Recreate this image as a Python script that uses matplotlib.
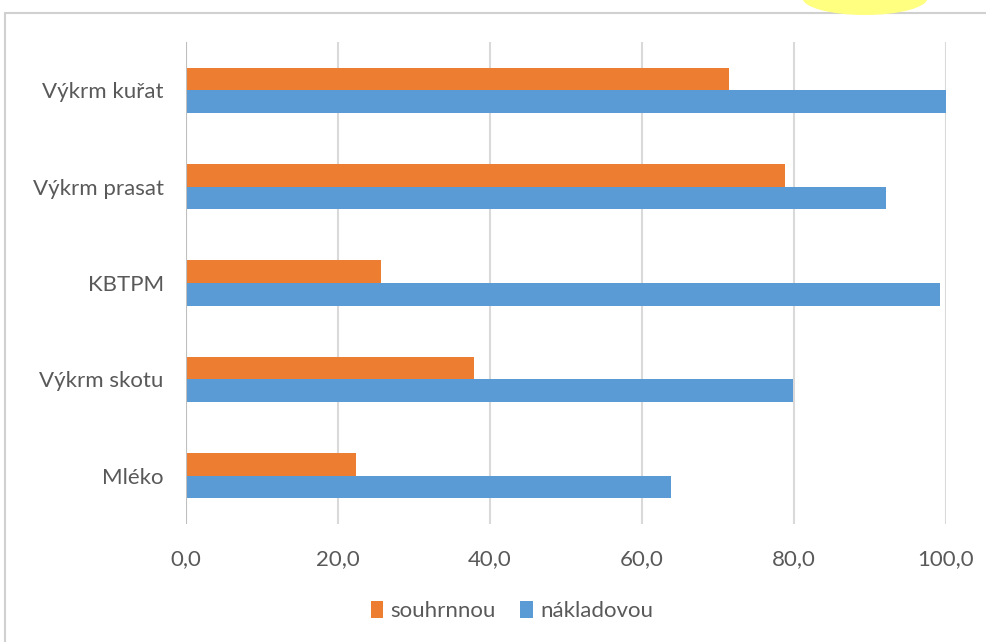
import matplotlib.pyplot as plt
from matplotlib.patches import Rectangle, Ellipse
import numpy as np

# categories from bottom to top
categories = ["Mléko", "Výkrm skotu", "KBTPM", "Výkrm prasat", "Výkrm kuřat"]
souhrnnou = [22.4, 37.9, 25.7, 78.8, 71.4]
nakladovou = [63.8, 79.9, 99.2, 92.1, 100.0]
xticks = [0, 20, 40, 60, 80, 100]
xtick_labels = ["0,0", "20,0", "40,0", "60,0", "80,0", "100,0"]

orange = "#ED7D31"
blue = "#5B9BD5"
grey_text = "#595959"
grid_col = "#D9D9D9"

plt.rcParams['font.family'] = ['Lato', 'DejaVu Sans']
fs = 16

W, H = 987, 642
fig = plt.figure(figsize=(W / 100, H / 100), dpi=100)

# chart frame (screenshot crop) and highlighter mark at top
fig.patches.append(Rectangle((5 / W, -0.01), 1.0, 1 - 13 / H + 0.01,
                             transform=fig.transFigure, fill=False,
                             edgecolor="#D0D0D0", linewidth=1.5))
fig.patches.append(Ellipse((865 / W, 1 + 2 / H), 125 / W, 34 / H,
                           transform=fig.transFigure, facecolor="#FFFF80",
                           edgecolor="none"))

ax = fig.add_axes([186 / W, 1 - 524 / H, (946 - 186) / W, (524 - 42) / H])

y = np.arange(len(categories))
h = 0.235
ax.barh(y + h / 2, souhrnnou, height=h, color=orange, label="souhrnnou", zorder=3)
ax.barh(y - h / 2, nakladovou, height=h, color=blue, label="nákladovou", zorder=3)

ax.set_xlim(0, 100)
ax.set_ylim(-0.5, len(categories) - 0.5)
ax.set_xticks(xticks)
ax.set_xticklabels(xtick_labels)
ax.set_yticks(y)
ax.set_yticklabels(categories)
ax.tick_params(axis="x", length=0, pad=18, labelsize=fs, labelcolor=grey_text)
ax.tick_params(axis="y", length=0, pad=16, labelsize=fs, labelcolor=grey_text)

ax.grid(axis="x", color=grid_col, linewidth=1.5, zorder=0)
for s in ax.spines.values():
    s.set_visible(False)
ax.axvline(0, color="#BFBFBF", linewidth=1.5, zorder=4)

leg = fig.legend(handles=ax.get_legend_handles_labels()[0],
                 labels=["souhrnnou", "nákladovou"],
                 loc="center", bbox_to_anchor=(512 / W, 1 - 611 / H), ncol=2,
                 frameon=False, fontsize=fs, handlelength=0.55, handleheight=0.8,
                 handletextpad=0.35, columnspacing=1.1)
for t in leg.get_texts():
    t.set_color(grey_text)

fig.savefig("out.png", dpi=100)
